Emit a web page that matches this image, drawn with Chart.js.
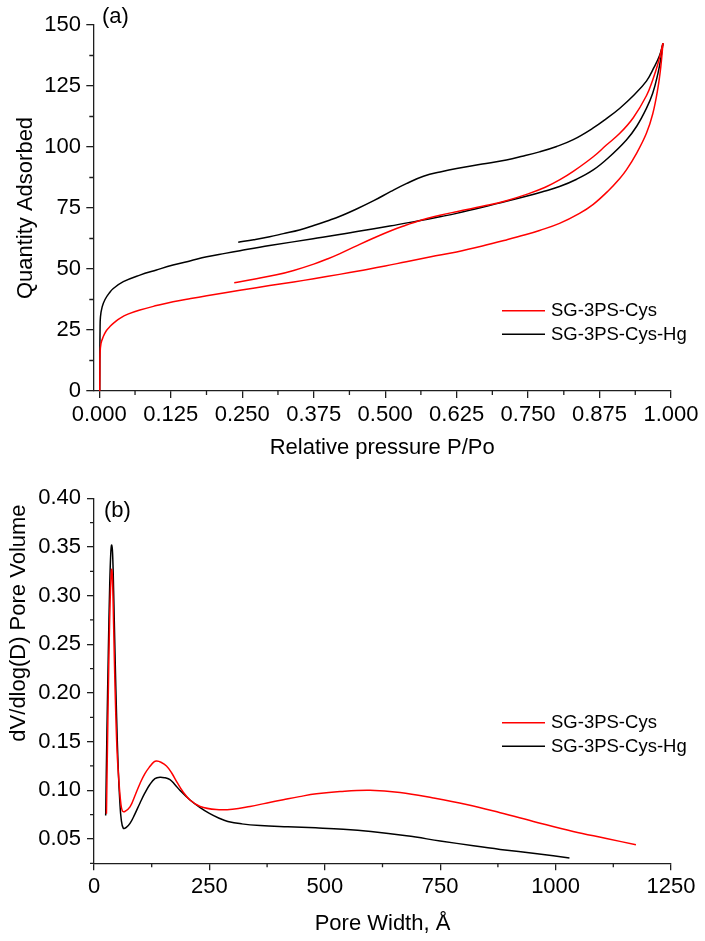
<!DOCTYPE html>
<html>
<head>
<meta charset="utf-8">
<script src="https://cdn.jsdelivr.net/npm/chart.js@4.4.1/dist/chart.umd.min.js"></script>
<style>
body{margin:0;background:#fff}
.panel{position:absolute;left:0;width:705px}
#boxA{top:0;height:470px}
#boxB{top:470px;height:471px}
</style>
</head>
<body>
<div class="panel" id="boxA"><canvas id="isotherm"></canvas></div>
<div class="panel" id="boxB"><canvas id="poreDist"></canvas></div>
<script>

// ===== DATA =====
const seriesNames = ["SG-3PS-Cys", "SG-3PS-Cys-Hg"]
const seriesColors = ["#ff0000", "#000000"]

// (a) isotherms, [P/Po, quantity adsorbed]
const cysAdsorption = [[0.0008,0],[0.001,8],[0.0013,15],[0.003,19.5],[0.007,22.3],[0.012,24.6],[0.019,26.5],[0.027,28.2],[0.036,29.8],[0.05,31.5],[0.071,33.2],[0.1,35],[0.129,36.6],[0.16,37.9],[0.188,39],[0.22,40.3],[0.246,41.3],[0.298,43.2],[0.34,44.7],[0.375,46],[0.42,47.8],[0.456,49.3],[0.5,51.2],[0.537,53],[0.58,55],[0.625,57],[0.67,59.4],[0.712,61.9],[0.745,64],[0.77,65.8],[0.805,68.7],[0.84,72.8],[0.864,76.5],[0.89,82],[0.91,87],[0.922,90.6],[0.94,97.5],[0.957,105.6],[0.968,113.5],[0.977,124],[0.982,132.5],[0.986,142.5]]
const cysDesorption = [[0.236,44.4],[0.27,45.8],[0.31,47.6],[0.34,49.4],[0.375,52],[0.4,54.2],[0.42,56.2],[0.45,59.5],[0.48,62.7],[0.51,65.7],[0.537,68],[0.557,69.6],[0.596,72],[0.625,73.5],[0.683,76.3],[0.712,78],[0.75,80.8],[0.78,83.5],[0.805,86.5],[0.829,90],[0.864,96],[0.887,100.8],[0.91,105.5],[0.934,112],[0.957,121],[0.968,127.5],[0.977,134],[0.986,142.5]]
const hgAdsorption = [[0.0008,0],[0.001,15],[0.0013,25],[0.002,30.4],[0.005,34.5],[0.01,37.5],[0.017,40],[0.0245,42],[0.042,44.8],[0.071,47.5],[0.1,49.6],[0.129,51.6],[0.16,53.4],[0.188,55],[0.22,56.4],[0.246,57.5],[0.298,59.6],[0.374,62.4],[0.42,64.1],[0.456,65.6],[0.508,67.6],[0.557,69.7],[0.6,71.6],[0.625,72.8],[0.67,75.3],[0.712,77.8],[0.75,80],[0.78,82],[0.805,83.8],[0.835,86.8],[0.864,90.6],[0.89,95.5],[0.922,102.9],[0.94,108.5],[0.957,115.8],[0.968,122],[0.977,130],[0.982,136],[0.986,142.5]]
const hgDesorption = [[0.243,61],[0.27,62],[0.298,63.2],[0.322,64.5],[0.35,66],[0.375,67.8],[0.4,69.8],[0.42,71.5],[0.45,74.6],[0.48,78],[0.51,81.8],[0.537,85],[0.567,88],[0.6,90],[0.625,91.2],[0.67,93],[0.712,94.7],[0.74,96.2],[0.77,98],[0.8,100.2],[0.829,103],[0.864,107.8],[0.887,111.6],[0.91,115.8],[0.934,121],[0.957,127],[0.97,132.5],[0.98,137.5],[0.986,142.5]]

// (b) pore size distribution, [pore width Å, dV/dlog(D)]
const cysPores = [[27,0.076],[29,0.14],[31,0.2],[33,0.255],[35,0.295],[37,0.32],[38.3,0.327],[40,0.318],[42.5,0.27],[45.5,0.207],[50,0.14],[54.8,0.104],[58,0.087],[61.3,0.079],[66,0.078],[78,0.083],[90,0.096],[99.7,0.107],[110,0.117],[121,0.1244],[130,0.1292],[136,0.13],[145,0.1288],[157,0.125],[168,0.118],[179,0.109],[192,0.099],[208,0.09],[230,0.0834],[265,0.0802],[300,0.0805],[338,0.0834],[375,0.087],[410,0.0903],[445,0.0935],[482,0.0964],[533,0.0988],[598,0.1],[663,0.0978],[735,0.0922],[807,0.0855],[880,0.077],[960,0.067],[1038,0.0577],[1110,0.0505],[1174,0.044]]
const hgPores = [[25.3,0.074],[28,0.16],[31,0.241],[34,0.31],[36.5,0.345],[38.3,0.352],[40.3,0.343],[42.5,0.305],[45.5,0.241],[49,0.175],[52.6,0.121],[56,0.088],[59,0.07],[63.5,0.061],[70,0.062],[78,0.066],[88,0.075],[99.7,0.087],[110,0.097],[121,0.106],[132,0.112],[143,0.1135],[154,0.1128],[164.6,0.111],[175,0.106],[186,0.1],[208,0.09],[230,0.0822],[250,0.0762],[270,0.0715],[290,0.068],[320,0.0655],[360,0.0638],[420,0.0625],[480,0.0614],[540,0.06],[600,0.0576],[677,0.0532],[750,0.048],[822,0.043],[880,0.0393],[960,0.0348],[1030,0.0305]]

// tick labels
const pressureTicks = [0, 0.125, 0.25, 0.375, 0.5, 0.625, 0.75, 0.875, 1]
const quantityTicks = [0, 25, 50, 75, 100, 125, 150]
const widthTicks = [0, 250, 500, 750, 1000, 1250]
const volumeTicks = [0.05, 0.10, 0.15, 0.20, 0.25, 0.30, 0.35, 0.40]


// ===== STYLE =====
const FONT = "'Liberation Sans', Arial, sans-serif"
const AXIS = "#1e1e1e"
Chart.defaults.font.family = FONT
Chart.defaults.color = "#000"

function pts(arr){
return arr.map(p => ({x:p[0], y:p[1]}))
}

function line(label, data, color){
return {
label:label,
data:pts(data),
borderColor:color,
borderWidth:1.5,
pointRadius:0,
fill:false,
tension:0.4
}
}

// axis built from a tick list
function axis(ticks, min, max, digits, title, o){
return {
type:"linear",
min:min,
max:max,
afterBuildTicks: s => { s.ticks = ticks.map(v => ({value:v})) },
afterFit: s => {
if(o.width) s.width = o.width
if(o.height) s.height = o.height
},
ticks:{
font:{size:22},
color:"#000",
padding:o.tickPad,
maxRotation:0,
autoSkip:false,
callback: v => digits >= 0 ? Number(v).toFixed(digits) : v
},
grid:{drawOnChartArea:false, drawTicks:true, tickLength:7, color:AXIS, lineWidth:1.3},
border:{display:true, color:AXIS, width:1.3},
title:{display:true, text:title, font:{size:22}, color:"#000", align:o.align || "center", padding:o.titlePad}
}
}


// ===== MINOR TICKS, PANEL LETTER, LEGEND =====
const extras = {
id:"extras",
afterDraw(chart, args, opts){

const ctx = chart.ctx
ctx.save()

// minor ticks halfway between majors
ctx.strokeStyle = AXIS
ctx.lineWidth = 1.3
ctx.beginPath()
for(const id of ["x","y"]){
const s = chart.scales[id]
const t = s.ticks.map(k => k.value)
const step = t[1] - t[0]
for(let v = t[0] - step/2; v <= s.max + 1e-9; v += step){
if(v < s.min - 1e-9) continue
const p = s.getPixelForValue(v)
if(id === "x"){
ctx.moveTo(p, s.top)
ctx.lineTo(p, s.top + 4)
}else{
ctx.moveTo(s.right, p)
ctx.lineTo(s.right - 4, p)
}
}
}
ctx.stroke()

// panel letter
ctx.fillStyle = "#000"
ctx.font = "22px " + FONT
ctx.textBaseline = "alphabetic"
ctx.textAlign = "left"
ctx.fillText(opts.letter, opts.letterX, opts.letterY)

// legend
ctx.font = "18.5px " + FONT
ctx.textBaseline = "middle"
seriesNames.forEach((name, i) => {
const y = opts.legendY + i * 23.6
ctx.strokeStyle = seriesColors[i]
ctx.lineWidth = 1.5
ctx.beginPath()
ctx.moveTo(opts.legendX, y)
ctx.lineTo(opts.legendX + 43, y)
ctx.stroke()
ctx.fillText(name, opts.legendX + 49, y + 0.5)
})

ctx.restore()
}
}


// ===== CHART (a) =====
new Chart(document.getElementById("isotherm"), {
type:"line",
data:{
datasets:[
line(seriesNames[0], cysAdsorption, seriesColors[0]),
line(seriesNames[0], cysDesorption, seriesColors[0]),
line(seriesNames[1], hgAdsorption, seriesColors[1]),
line(seriesNames[1], hgDesorption, seriesColors[1])
]
},
options:{
responsive:true,
maintainAspectRatio:false,
animation:false,
layout:{padding:{top:25, right:34, left:0, bottom:0}},
plugins:{
legend:{display:false},
tooltip:{enabled:false},
extras:{letter:"(a)", letterX:102, letterY:22.5, legendX:502, legendY:310.7}
},
scales:{
x:axis(pressureTicks, -0.0105, 1, 3, "Relative pressure P/Po",
{height:79, tickPad:4, titlePad:{top:4, bottom:8.5}}),
y:axis(quantityTicks, 0, 150, -1, "Quantity Adsorbed",
{width:93.3, tickPad:5.3, titlePad:{top:12.6, bottom:4}})
}
},
plugins:[extras]
})


// ===== CHART (b) =====
new Chart(document.getElementById("poreDist"), {
type:"line",
data:{
datasets:[
line(seriesNames[0], cysPores, seriesColors[0]),
line(seriesNames[1], hgPores, seriesColors[1])
]
},
options:{
responsive:true,
maintainAspectRatio:false,
animation:false,
layout:{padding:{top:28.3, right:34, left:0, bottom:0}},
plugins:{
legend:{display:false},
tooltip:{enabled:false},
extras:{letter:"(b)", letterX:104, letterY:47, legendX:502, legendY:252.7}
},
scales:{
x:axis(widthTicks, 0, 1250, -1, "Pore Width, Å",
{height:77.7, tickPad:3.5, titlePad:{top:4, bottom:3.8}}),
y:axis(volumeTicks, 0.025, 0.40, 2, "dV/dlog(D) Pore Volume ",
{width:94, tickPad:6, align:"end", titlePad:{top:5.8, bottom:4}})
}
},
plugins:[extras]
})
</script>
</body>
</html>
